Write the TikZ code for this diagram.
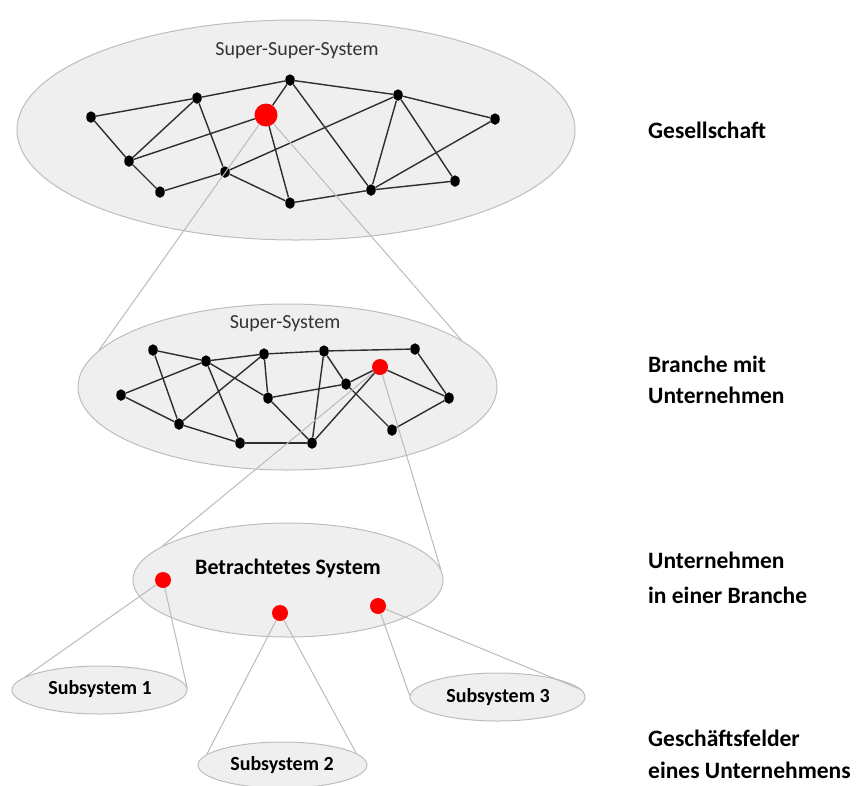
\documentclass[tikz,border=0pt]{standalone}
\usepackage{fontspec}
\setmainfont{Carlito}
\usetikzlibrary{shapes.geometric}
\definecolor{shell}{HTML}{EFEFEF}
\definecolor{shellline}{HTML}{BDBDBD}
\definecolor{zoomline}{HTML}{BBBBBB}
\definecolor{edgeline}{HTML}{2E2E2E}
\tikzset{
  shell/.style={ellipse, draw=shellline, fill=shell, line width=1pt, inner sep=0pt},
  net/.style={ellipse, fill=black, inner sep=0pt, minimum width=9.5pt, minimum height=11.5pt},
  hub/.style={circle, fill=red, inner sep=0pt},
  link/.style={draw=edgeline, line width=1.4pt},
  zoomray/.style={draw=zoomline, line width=1pt},
  levellabel/.style={anchor=base west, inner sep=0pt, font=\fontsize{23.5}{28}\bfseries\selectfont},
  title/.style={inner sep=0pt, font=\fontsize{20}{24}\selectfont, text=black!80},
  boldtitle/.style={inner sep=0pt, font=\fontsize{22}{26}\bfseries\selectfont},
  subtitle/.style={inner sep=0pt, font=\fontsize{20}{24}\bfseries\selectfont},
}
\begin{document}
\begin{tikzpicture}[x=1pt,y=-1pt]
\useasboundingbox (0,0) rectangle (858,785);

% system shells
\node[shell, minimum width=558pt, minimum height=220pt] (society) at (296,130) {};
\node[shell, minimum width=419pt, minimum height=166pt] (branch) at (287.5,387) {};
\node[shell, minimum width=310pt, minimum height=114pt] (firm) at (288,580) {};
\node[shell, minimum width=175pt, minimum height=48pt] (sub1) at (99.5,690) {};
\node[shell, minimum width=169pt, minimum height=46pt] (sub2) at (282.5,765) {};
\node[shell, minimum width=175pt, minimum height=48pt] (sub3) at (497.5,697) {};

% titles
\node[title] (t1) at (297,51) {Super-Super-System};
\node[title] (t2) at (285,324) {Super-System};
\node[boldtitle] (t3) at (288,568) {Betrachtetes System};
\node[subtitle] (s1) at (100,689) {Subsystem 1};
\node[subtitle] (s2) at (282,765) {Subsystem 2};
\node[subtitle] (s3) at (498,697) {Subsystem 3};

% society network
\node[net] (A) at (91,117) {};
\node[net] (B) at (197,98) {};
\node[net] (C) at (290,80) {};
\node[hub, minimum size=23pt] (R) at (266,115) {};
\node[net] (D) at (398,95) {};
\node[net] (E) at (495,119) {};
\node[net] (F) at (129,161) {};
\node[net] (G) at (225,172) {};
\node[net] (H) at (160,192) {};
\node[net] (I) at (290,203) {};
\node[net] (J) at (371,190) {};
\node[net] (K) at (455,181) {};

\foreach \u/\v in {A/B,B/C,C/D,D/E,A/F,F/H,B/F,B/G,R/F,C/R,C/J,R/I,G/I,G/D,H/G,D/J,D/K,E/J,J/K,I/J}
  \draw[link] (\u) -- (\v);

% branch network
\node[net] (a) at (153,350) {};
\node[net] (b) at (206,361) {};
\node[net] (c) at (264,354) {};
\node[net] (d) at (324,351) {};
\node[net] (e) at (415,349) {};
\node[hub, minimum size=16pt] (r) at (380,367) {};
\node[net] (f) at (121,395) {};
\node[net] (g) at (346,384) {};
\node[net] (h) at (268,398) {};
\node[net] (i) at (449,398) {};
\node[net] (j) at (179,424) {};
\node[net] (k) at (240,443) {};
\node[net] (l) at (312,443) {};
\node[net] (m) at (392,430) {};

\foreach \u/\v in {a/b,b/c,c/d,d/e,a/j,f/b,f/j,b/h,b/k,c/j,c/h,h/g,h/l,j/k,k/l,d/l,d/g,g/m,r/g,r/l,r/i,e/i,m/i}
  \draw[link] (\u) -- (\v);

% business units
\node[hub, minimum size=16pt] (u1) at (163,580) {};
\node[hub, minimum size=16pt] (u2) at (280,613) {};
\node[hub, minimum size=16pt] (u3) at (378,606) {};

% zoom rays between levels
\draw[zoomray] (R) -- (branch.169);
\draw[zoomray] (R) -- (branch.15);
\draw[zoomray] (r) -- (firm.165);
\draw[zoomray] (r) -- (firm.4.5);
\draw[zoomray] (u1) -- (sub1.170);
\draw[zoomray] (u1) -- (sub1.1);
\draw[zoomray] (u2) -- (sub2.172);
\draw[zoomray] (u2) -- (sub2.9);
\draw[zoomray] (u3) -- (sub3.179);
\draw[zoomray] (u3) -- (sub3.5);

% level descriptions
\node[levellabel] (L1) at (648,138) {Gesellschaft};
\node[levellabel] (L2a) at (648,372) {Branche mit};
\node[levellabel] (L2b) at (648,403) {Unternehmen};
\node[levellabel] (L3a) at (648,568) {Unternehmen};
\node[levellabel] (L3b) at (648,603) {in einer Branche};
\node[levellabel] (L4a) at (648,746) {Geschäftsfelder};
\node[levellabel] (L4b) at (648,778) {eines Unternehmens};
\end{tikzpicture}
\end{document}
